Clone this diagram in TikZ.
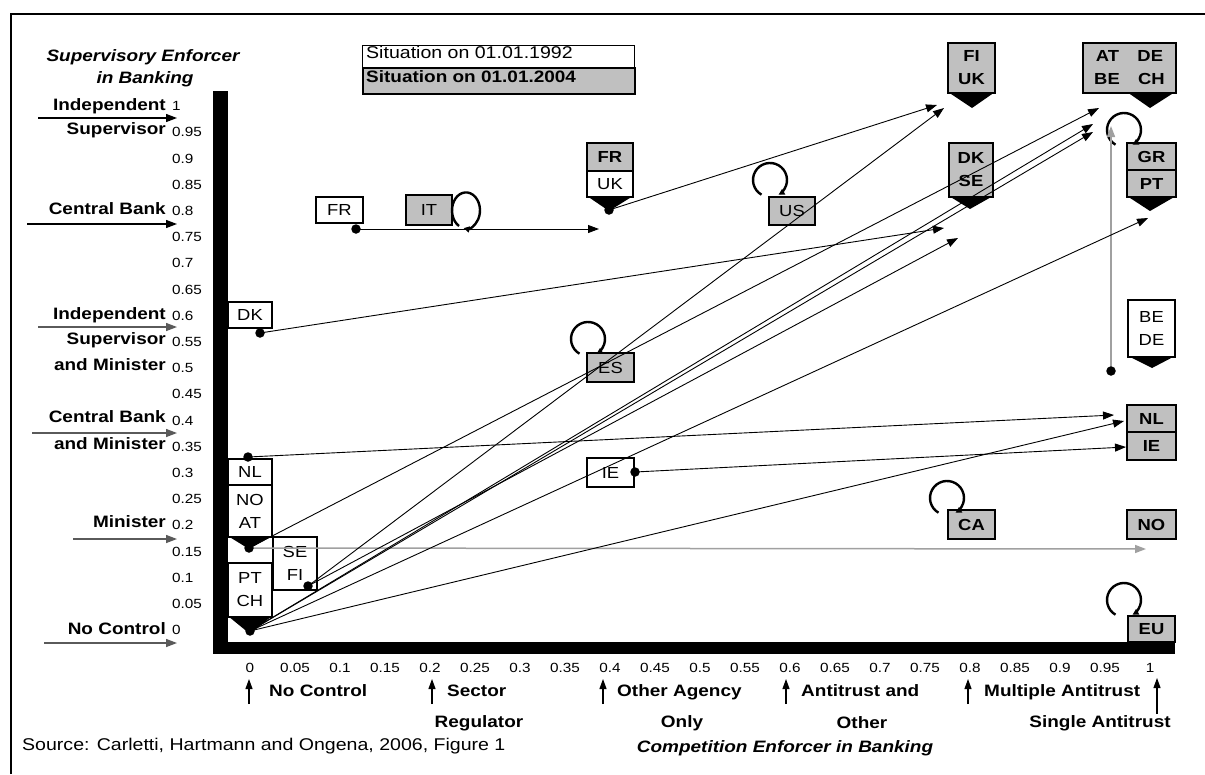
\documentclass[tikz,border=0pt]{standalone}
\usepackage{fontspec}
\setmainfont{Liberation Sans}
\usetikzlibrary{arrows.meta}
\definecolor{boxgray}{RGB}{192,192,192}
\definecolor{lgray}{RGB}{160,160,160}
\definecolor{agray}{RGB}{90,90,90}
\newcommand\sx[1]{\scalebox{1.15}[1]{#1}}
\begin{document}
\begin{tikzpicture}[x=1pt,y=-1pt,
  lab/.style={font=\fontsize{16.5}{18}\selectfont\bfseries, inner sep=0pt},
  labit/.style={font=\fontsize{16.5}{18}\selectfont\bfseries\itshape, inner sep=0pt},
  plain/.style={font=\fontsize{17}{18}\selectfont, inner sep=0pt},
  ticklab/.style={font=\fontsize{13.3}{14}\selectfont, inner sep=0pt},
  wbox/.style={draw, line width=1.2pt, fill=white, inner sep=0pt, font=\fontsize{16}{23}\selectfont, align=center},
  gbox/.style={draw, line width=2.5pt, fill=boxgray, inner sep=0pt, font=\fontsize{16}{23}\selectfont, align=center},
  bgbox/.style={gbox, font=\fontsize{16}{23}\selectfont\bfseries},
  conn/.style={line width=0.9pt, -{Triangle[length=11pt,width=8pt]}},
  gconn/.style={conn, draw=lgray, line width=1.5pt, -{Triangle[length=11pt,width=8pt]}},
  catarrow/.style={line width=1.3pt, -{Triangle[length=11pt,width=8pt]}},
  uparrow/.style={line width=1.1pt, -{Triangle[length=10pt,width=7pt]}},
  dot/.style={circle, fill=black, inner sep=0pt, minimum size=9.5pt},
  pointer/.style={fill=black},
  loopst/.style={line width=2.4pt, -{Triangle[length=6pt,width=6pt]}},
]
\useasboundingbox (0,0) rectangle (1205,774);
\fill[white] (0,0) rectangle (1205,774);
% frame
\draw[line width=1.6pt] (11,774) -- (11,14) -- (1205,14);

% axes
\fill (213,91) rectangle (228,654);
\fill (213,642) rectangle (1175,654);

% y axis title
\node[labit] (ytitle1) at (143,57) {\sx{Supervisory Enforcer}};
\node[labit] (ytitle2) at (145,79) {\sx{in Banking}};

% y tick labels
\foreach \t [count=\i from 0] in {0,0.05,0.1,0.15,0.2,0.25,0.3,0.35,0.4,0.45,0.5,0.55,0.6,0.65,0.7,0.75,0.8,0.85,0.9,0.95,1}
  \node[ticklab, anchor=mid west] (yt\i) at (172,{632-26.2*\i}) {\sx{\t}};
% x tick labels
\foreach \t [count=\i from 0] in {0,0.05,0.1,0.15,0.2,0.25,0.3,0.35,0.4,0.45,0.5,0.55,0.6,0.65,0.7,0.75,0.8,0.85,0.9,0.95,1}
  \node[ticklab, anchor=mid] (xt\i) at ({250+45*\i},670) {\sx{\t}};

% left category labels
\node[lab, anchor=mid east] (c1a) at (166,108) {\sx{Independent}};
\node[lab, anchor=mid east] (c1b) at (166,132) {\sx{Supervisor}};
\node[lab, anchor=mid east] (c2) at (166,212) {\sx{Central Bank}};
\node[lab, anchor=mid east] (c3a) at (166,317) {\sx{Independent}};
\node[lab, anchor=mid east] (c3b) at (166,342) {\sx{Supervisor}};
\node[lab, anchor=mid east] (c3c) at (166,368) {\sx{and Minister}};
\node[lab, anchor=mid east] (c4a) at (166,420) {\sx{Central Bank}};
\node[lab, anchor=mid east] (c4b) at (166,447) {\sx{and Minister}};
\node[lab, anchor=mid east] (c5) at (166,525) {\sx{Minister}};
\node[lab, anchor=mid east] (c6) at (166,632) {\sx{No Control}};
\coordinate (a1s) at (38,118);  \coordinate (a1e) at (177,118);
\coordinate (a2s) at (27,224);  \coordinate (a2e) at (177,224);
\coordinate (a3s) at (38,327);  \coordinate (a3e) at (177,327);
\coordinate (a4s) at (32,433);  \coordinate (a4e) at (177,433);
\coordinate (a5s) at (73,539);  \coordinate (a5e) at (177,539);
\coordinate (a6s) at (44,643);  \coordinate (a6e) at (177,643);
\draw[catarrow] (a1s) -- (a1e);
\draw[catarrow] (a2s) -- (a2e);
\draw[catarrow, draw=agray] (a3s) -- (a3e);
\draw[catarrow, draw=agray] (a4s) -- (a4e);
\draw[catarrow, draw=agray] (a5s) -- (a5e);
\draw[catarrow, draw=agray] (a6s) -- (a6e);

% bottom category labels
\coordinate (u1s) at (249,704); \coordinate (u1e) at (249,679);
\coordinate (u2s) at (432,704); \coordinate (u2e) at (432,679);
\coordinate (u3s) at (603,704); \coordinate (u3e) at (603,679);
\coordinate (u4s) at (786,704); \coordinate (u4e) at (786,679);
\coordinate (u5s) at (968,704); \coordinate (u5e) at (968,679);
\coordinate (u6s) at (1157,714); \coordinate (u6e) at (1157,678);
\foreach \k in {1,...,6} \draw[uparrow] (u\k s) -- (u\k e);
\node[lab, anchor=mid west] (b1) at (269,694) {\sx{No Control}};
\node[lab, anchor=mid west] (b2) at (447,694) {\sx{Sector}};
\node[lab] (b2b) at (479,723) {\sx{Regulator}};
\node[lab, anchor=mid west] (b3) at (617,694) {\sx{Other Agency}};
\node[lab] (b3b) at (682,723) {\sx{Only}};
\node[lab, anchor=mid west] (b4) at (801,694) {\sx{Antitrust and}};
\node[lab] (b4b) at (862,723) {\sx{Other}};
\node[lab, anchor=mid west] (b5) at (984,694) {\sx{Multiple Antitrust}};
\node[lab] (b6) at (1100,723) {\sx{Single Antitrust}};
\node[plain, anchor=mid west] (src) at (22,748) {\sx{Source: Carletti, Hartmann and Ongena, 2006, Figure 1}};
\node[labit] (xtitle) at (785,748) {\sx{Competition Enforcer in Banking}};

% legend
\node[wbox, minimum width=272pt, minimum height=22pt, anchor=north west] (leg1) at (362,45) {};
\node[gbox, line width=2.2pt, minimum width=272pt, minimum height=26pt, anchor=north west] (leg2) at (362,67) {};
\node[plain, anchor=mid west] (leg1t) at (366,56) {\sx{Situation on 01.01.1992}};
\node[lab, anchor=mid west] (leg2t) at (366,80) {\sx{Situation on 01.01.2004}};

% pointers (black)
\fill[pointer] (587,196) -- (633,196) -- (609,211) -- cycle;
\fill[pointer] (948,92) -- (995,92) -- (972,108) -- cycle;
\fill[pointer] (1127,92) -- (1175,92) -- (1150,108) -- cycle;
\fill[pointer] (949,196) -- (993,196) -- (970,209) -- cycle;
\fill[pointer] (1127,196) -- (1176,196) -- (1150,211) -- cycle;
\fill[pointer] (1128,356) -- (1175,356) -- (1152,368) -- cycle;
\fill[pointer] (228,536) -- (272,536) -- (249,549) -- cycle;
\fill[pointer] (228,616) -- (272,616) -- (250,634) -- cycle;
\fill[pointer] (274,575) .. controls (266,577) and (266,586) .. (274,588) -- cycle;

% white (1992) boxes
\node[wbox, minimum width=47pt, minimum height=26pt] (wFR) at (339.5,210) {\sx{FR}};
\node[wbox, minimum width=44pt, minimum height=26pt] (wDK) at (250,315) {\sx{DK}};
\node[wbox, minimum width=47pt, minimum height=29pt] (wIE) at (610.5,472.5) {\sx{IE}};
\node[wbox, minimum width=44pt, minimum height=26pt] (wNL) at (250,472) {\sx{NL}};
\node[wbox, minimum width=44pt, minimum height=52pt] (wNOAT) at (250,511) {\sx{NO}\\\sx{AT}};
\node[wbox, minimum width=44pt, minimum height=53pt] (wSEFI) at (295,563.5) {\sx{SE}\\\sx{FI}};
\node[wbox, minimum width=44pt, minimum height=54pt] (wPTCH) at (250,590) {\sx{PT}\\\sx{CH}};
\node[wbox, minimum width=47pt, minimum height=57pt] (wBEDE) at (1151.5,328.5) {\sx{BE}\\\sx{DE}};
\node[wbox, minimum width=46pt, minimum height=26pt] (wUK) at (610,184) {\sx{UK}};

% gray (2004) boxes
\node[bgbox, minimum width=46pt, minimum height=28pt] (gFR) at (610,157) {\sx{FR}};
\node[gbox, minimum width=46pt, minimum height=30pt] (gIT) at (429,210) {\sx{IT}};
\node[gbox, minimum width=46pt, minimum height=28pt] (gUS) at (792,211) {\sx{US}};
\node[gbox, minimum width=47pt, minimum height=29pt] (gES) at (610.5,367.5) {\sx{ES}};
\node[bgbox, minimum width=47pt, minimum height=50pt] (gFIUK) at (971.5,68) {\sx{FI}\\\sx{UK}};
\node[bgbox, minimum width=93pt, minimum height=50pt] (gATDE) at (1129.5,68) {\sx{AT\hspace{16pt}DE}\\\sx{BE\hspace{16pt}CH}};
\node[bgbox, minimum width=44pt, minimum height=54pt] (gDKSE) at (971,170) {\sx{DK}\\\sx{SE}};
\node[bgbox, minimum width=49pt, minimum height=27pt] (gGR) at (1151.5,156.5) {\sx{GR}};
\node[bgbox, minimum width=49pt, minimum height=27pt] (gPT) at (1151.5,183.5) {\sx{PT}};
\node[bgbox, minimum width=49pt, minimum height=27pt] (gNL) at (1151.5,418.5) {\sx{NL}};
\node[bgbox, minimum width=49pt, minimum height=28pt] (gIE) at (1151.5,446) {\sx{IE}};
\node[bgbox, minimum width=47pt, minimum height=29pt] (gCA) at (971.5,524.5) {\sx{CA}};
\node[bgbox, minimum width=49pt, minimum height=29pt] (gNO) at (1151.5,524.5) {\sx{NO}};
\node[bgbox, minimum width=47pt, minimum height=26pt] (gEU) at (1151.5,629) {\sx{EU}};

% loops (no change)
\draw[loopst] (459,226) arc[start angle=120, end angle=460, x radius=14, y radius=18];
\draw[loopst] (761.5,194.7) arc[start angle=-240, end angle=60, radius=17];
\draw[loopst] (579.5,353.7) arc[start angle=-240, end angle=60, radius=17];
\draw[loopst] (938.5,512.7) arc[start angle=-240, end angle=60, radius=17];
\draw[loopst] (1115.5,614.7) arc[start angle=-240, end angle=60, radius=17];
\draw[loopst] (1115.5,144.7) arc[start angle=-240, end angle=60, radius=17];

% 1992 positions (dots) and 2004 targets
\coordinate (pFR) at (356,229);
\coordinate (pUK) at (609,210);
\coordinate (pDK) at (260,333);
\coordinate (pNL) at (248,457);
\coordinate (pIE) at (635,472);
\coordinate (pNOAT) at (249,548);
\coordinate (pSEFI) at (308,586);
\coordinate (pO) at (250,631);
\coordinate (pBEDE) at (1111,371);

\coordinate (tFR) at (599,229);
\coordinate (tUK) at (937,105);
\coordinate (tFI) at (944,108);
\coordinate (tDK) at (944,228);
\coordinate (tSE) at (958,238);
\coordinate (tAT) at (1099,108);
\coordinate (tCH1) at (1093,124);
\coordinate (tCH2) at (1093,132);
\coordinate (tPT) at (1148,218);
\coordinate (tNL) at (1114,415);
\coordinate (tNL2) at (1124,421);
\coordinate (tIE) at (1126,447);
\coordinate (tNO) at (1146,549);
\coordinate (tBEDE) at (1111,126);

\draw[gconn] (pNOAT) -- (tNO);
\draw[gconn, line width=1.6pt] (pBEDE) -- (tBEDE);
\draw[conn] (pFR) -- (tFR);
\draw[conn] (pUK) -- (tUK);
\draw[conn] (pDK) -- (tDK);
\draw[conn] (pNL) -- (tNL);
\draw[conn] (pIE) -- (tIE);
\draw[conn] (pNOAT) -- (tAT);
\draw[conn] (pSEFI) -- (tFI);
\draw[conn] (pSEFI) -- (tSE);
\draw[conn] (pO) -- (tCH1);
\draw[conn] (pO) -- (tCH2);
\draw[conn] (pO) -- (tPT);
\draw[conn] (pO) -- (tNL2);

\foreach \p in {pFR,pUK,pDK,pNL,pIE,pNOAT,pSEFI,pO,pBEDE}
  \node[dot] at (\p) {};
\end{tikzpicture}
\end{document}
